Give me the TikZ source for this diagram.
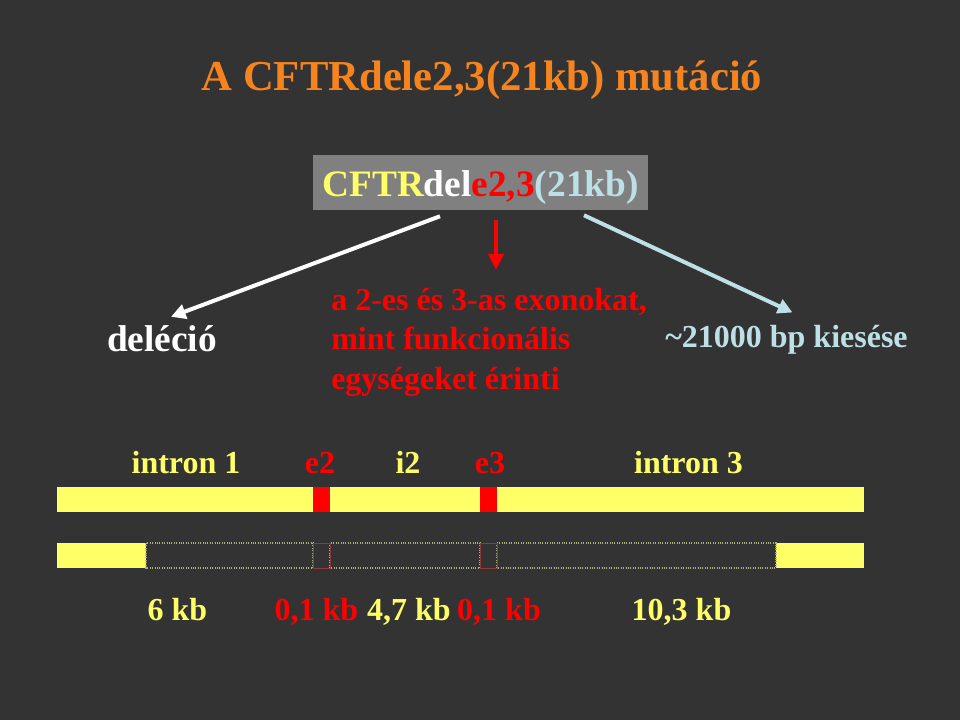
\documentclass[tikz,border=0pt]{standalone}
\usepackage{fontspec}
\setmainfont{Liberation Serif}
\usepackage{xcolor}
\definecolor{cBg}{HTML}{333333}
\definecolor{cTitle}{HTML}{F5841F}
\definecolor{cBox}{HTML}{808080}
\definecolor{cYellow}{HTML}{FFFF66}
\definecolor{cRed}{HTML}{FF0000}
\definecolor{cBlue}{HTML}{BCE0E6}
\definecolor{cDot}{HTML}{B0B088}
\definecolor{cDotRed}{HTML}{8C3A3A}
\usepackage{tikz}
\usetikzlibrary{arrows.meta,calc}
\tikzset{
  txt-base/.style={inner sep=0pt,anchor=base,font=\bfseries\fontsize{24pt}{27pt}\selectfont},
  txt-yellow/.style={txt-base,text=cYellow},
  txt-red/.style={txt-base,text=cRed},
  node-title/.style={inner sep=0pt,anchor=base,text=cTitle,
    font=\bfseries\fontsize{32pt}{36pt}\selectfont},
  node-cftr/.style={fill=cBox,inner xsep=0pt,inner ysep=0pt,
    minimum width=251.25pt,text height=31.5pt,text depth=9.75pt,
    font=\bfseries\fontsize{28pt}{32pt}\selectfont},
  bar-yellow/.style={fill=cYellow},
  bar-exon/.style={fill=cRed},
  gap-intron/.style={draw=cDot,densely dotted,line width=0.8pt},
  gap-exon/.style={draw=cDotRed,line width=0.6pt},
  % three arrows out of the gray box
  arrow-white/.style={-{Triangle[length=11pt,width=11pt]},line width=3pt,draw=white},
  arrow-red/.style={-{Triangle[length=12pt,width=11pt]},line width=3pt,draw=cRed},
  arrow-blue/.style={-{Triangle[length=11pt,width=11pt]},line width=3pt,draw=cBlue},
}

\begin{document}
\begin{tikzpicture}[x=0.75pt,y=-0.75pt]
  \fill[cBg] (0,0) rectangle (960,720);

  \node[node-title] (title) at (482,91) {A CFTRdele2,3(21kb) mutáció};
  \node[node-cftr] (cftr) at (480.5,182.5)
    {{\color{cYellow}CFTR}{\color{white}del}{\color{cRed}e2,3}{\color{cBlue}(21kb)}};

  \node[txt-base,text=white,font=\bfseries\fontsize{28pt}{32pt}\selectfont]
    (delecio) at (162,351) {deléció};
  \node[txt-red,anchor=north west,align=left,font=\bfseries\fontsize{24pt}{29.5pt}\selectfont]
    (exons) at (331,288)
    {a 2-es és 3-as exonokat,\\mint funkcionális\\egységeket érinti};
  \node[txt-base,text=cBlue,anchor=base west] (bploss) at (665,347) {\textasciitilde21000 bp kiesése};

  \draw[arrow-white] ($(cftr.south)+(-40.5,6)$) -- ($(delecio.north)+(9,-8)$);
  \draw[arrow-red] ($(cftr.south)+(15.5,10)$) -- ($(exons.north west)+(165,-18)$);
  \draw[arrow-blue] ($(cftr.south)+(103.5,5)$) -- ($(bploss.north)+(6,-12)$);

  % gene map
  \node[txt-yellow] (in1) at (186,473) {intron 1};
  \node[txt-red] (ex2) at (320,473) {e2};
  \node[txt-yellow] (in2) at (408,473) {i2};
  \node[txt-red] (ex3) at (490,473) {e3};
  \node[txt-yellow] (in3) at (688.5,473) {intron 3};

  \fill[bar-yellow] (57,487) rectangle (864,512);
  \foreach \x in {313,480}
    \fill[bar-exon] (\x,487) rectangle (\x+17,512);

  \fill[bar-yellow] (57,543) rectangle (146,568);
  \fill[bar-yellow] (776,543) rectangle (864,568);
  \draw[gap-intron] (146,543) rectangle (313,568);
  \draw[gap-intron] (330,543) rectangle (480,568);
  \draw[gap-intron] (497,543) rectangle (776,568);
  \foreach \x in {313,480}
    \draw[gap-exon] (\x,543) rectangle (\x+17,568);

  \node[txt-yellow] (len1) at (177.5,620) {6 kb};
  \node[txt-red] (len2) at (316.5,620) {0,1 kb};
  \node[txt-yellow] (len3) at (409,620) {4,7 kb};
  \node[txt-red] (len4) at (499,620) {0,1 kb};
  \node[txt-yellow] (len5) at (681.5,620) {10,3 kb};
\end{tikzpicture}
\end{document}
